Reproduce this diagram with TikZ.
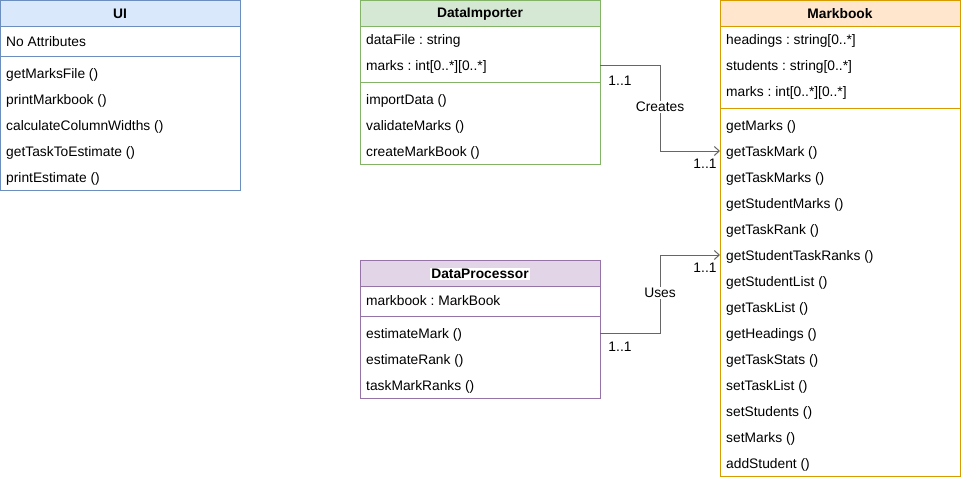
\documentclass[tikz,border=0pt]{standalone}
\usepackage{fontspec}
\setmainfont{Liberation Sans}
\usetikzlibrary{arrows.meta}
\definecolor{blueF}{HTML}{DAE8FC}
\definecolor{blueS}{HTML}{6C8EBF}
\definecolor{greenF}{HTML}{D5E8D4}
\definecolor{greenS}{HTML}{82B366}
\definecolor{purpleF}{HTML}{E1D5E7}
\definecolor{purpleS}{HTML}{9673A6}
\definecolor{orangeF}{HTML}{FFE6CC}
\definecolor{orangeS}{HTML}{D79B00}
\definecolor{edgegray}{HTML}{666666}
\frenchspacing
\tikzset{
  clsbox/.style={draw=#1, line width=1pt, rectangle, inner sep=0pt, outer sep=0pt, anchor=north west},
  sepline/.style={draw=#1, line width=1pt},
  hdr/.style={font=\fontsize{13.8}{16}\selectfont\bfseries, inner sep=0pt, yshift=-1pt},
  row/.style={anchor=west, inner sep=0pt, yshift=-1.5pt},
  lbl/.style={fill=white, inner sep=1pt},
  mult/.style={inner sep=0pt},
  conn/.style={draw=edgegray, line width=1pt, -{Straight Barb[length=5pt,width=9pt]}},
}
\begin{document}
\begin{tikzpicture}[x=1pt,y=-1pt, every node/.style={font=\fontsize{13.8}{16}\selectfont}]
\useasboundingbox (0,0) rectangle (961,480);

% ---------------- UI ----------------
\fill[blueF] (0.5,0.5) rectangle (240,26);
\draw[sepline=blueS] (0.5,26) -- (240,26);
\draw[sepline=blueS] (0.5,56) -- (240,56);
\node[clsbox=blueS, minimum width=239.5, minimum height=189.5] (ui) at (0.5,0.5) {};
\node[hdr] (uih) at (120,13) {UI};
\node[row] (ui-a1) at (6,40) {No Attributes};
\foreach \t [count=\i] in {getMarksFile (), printMarkbook (), calculateColumnWidths (), getTaskToEstimate (), printEstimate ()}
  \node[row] (ui-m\i) at (6,{47+26*\i}) {\t};

% ---------------- DataImporter ----------------
\fill[greenF] (360,0.5) rectangle (600,26);
\draw[sepline=greenS] (360,26) -- (600,26);
\draw[sepline=greenS] (360,82) -- (600,82);
\node[clsbox=greenS, minimum width=240, minimum height=163.5] (di) at (360,0.5) {};
\node[hdr] (dih) at (480,13) {DataImporter};
\node[row] (di-a1) at (366,39) {dataFile : string};
\node[row] (di-a2) at (366,65) {marks : int[0..*][0..*]};
\foreach \t [count=\i] in {importData (), validateMarks (), createMarkBook ()}
  \node[row] (di-m\i) at (366,{73+26*\i}) {\t};

% ---------------- DataProcessor ----------------
\fill[purpleF] (360,260) rectangle (600,286);
\draw[sepline=purpleS] (360,286) -- (600,286);
\draw[sepline=purpleS] (360,316) -- (600,316);
\node[clsbox=purpleS, minimum width=240, minimum height=138] (dp) at (360,260) {};
\node[hdr, fill=white, inner sep=1pt] (dph) at (480,273) {DataProcessor};
\node[row] (dp-a1) at (366,299) {markbook : MarkBook};
\foreach \t [count=\i] in {estimateMark (), estimateRank (), taskMarkRanks ()}
  \node[row] (dp-m\i) at (366,{307+26*\i}) {\t};

% ---------------- Markbook ----------------
\fill[orangeF] (720,0.5) rectangle (960,26);
\draw[sepline=orangeS] (720,26) -- (960,26);
\draw[sepline=orangeS] (720,108) -- (960,108);
\node[clsbox=orangeS, minimum width=240, minimum height=475.5] (mb) at (720,0.5) {};
\node[hdr] (mbh) at (840,13) {Markbook};
\foreach \t [count=\i] in {headings : string[0..*], students : string[0..*], marks : int[0..*][0..*]}
  \node[row] (mb-a\i) at (726,{13+26*\i}) {\t};
\foreach \t [count=\i] in {getMarks (), getTaskMark (), getTaskMarks (), getStudentMarks (), getTaskRank (), getStudentTaskRanks (), getStudentList (), getTaskList (), getHeadings (), getTaskStats (), setTaskList (), setStudents (), setMarks (), addStudent ()}
  \node[row] (mb-m\i) at (726,{99+26*\i}) {\t};

% ---------------- Connectors ----------------
\coordinate (c-elbow) at (660,65);
\coordinate (c-turn) at (660,151);
\draw[conn] (di.east |- c-elbow) -- (c-elbow) -- (c-turn) -- (mb.west |- c-turn);
\node[lbl] (creates) at (660,107) {Creates};
\node[mult] (c-src) at (620,81) {1..1};
\node[mult] (c-tgt) at (705,164) {1..1};

\coordinate (u-elbow) at (660,333);
\coordinate (u-turn) at (660,255);
\draw[conn] (dp.east |- u-elbow) -- (u-elbow) -- (u-turn) -- (mb.west |- u-turn);
\node[lbl] (uses) at (660,293) {Uses};
\node[mult] (u-src) at (620,347) {1..1};
\node[mult] (u-tgt) at (705,268) {1..1};
\end{tikzpicture}
\end{document}
